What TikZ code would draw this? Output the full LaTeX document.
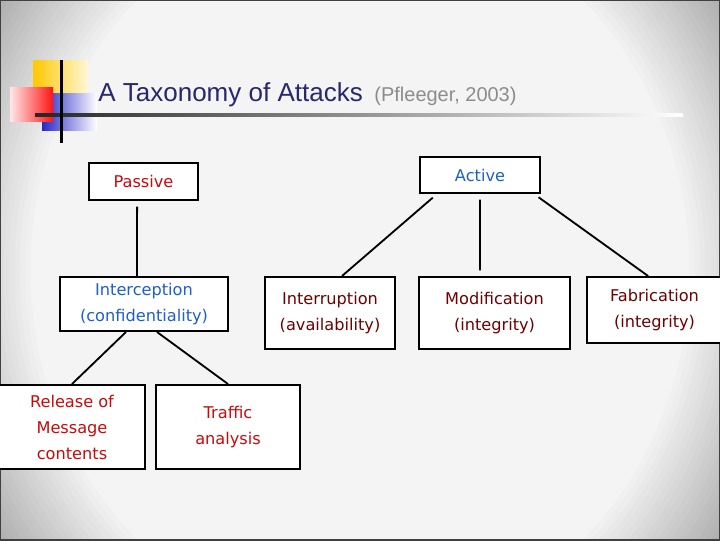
\documentclass[tikz,border=0pt]{standalone}
\usepackage{fontspec}
\usepackage{tikz}
\newfontfamily\boxfont{DejaVu Sans}
\newfontfamily\titlefont{Liberation Sans}
\definecolor{slidewhite}{RGB}{247,247,247}
\definecolor{slidegray}{RGB}{160,160,160}
\definecolor{titleblue}{RGB}{40,40,110}
\definecolor{citegray}{RGB}{140,140,140}
\definecolor{boxred}{RGB}{200,10,10}
\definecolor{boxblue}{RGB}{30,95,200}
\definecolor{boxmaroon}{RGB}{110,0,0}
\definecolor{sqyellow}{RGB}{255,200,0}
\definecolor{sqblue}{RGB}{40,40,200}
\definecolor{sqred}{RGB}{255,20,20}
\tikzset{box/.style={draw, line width=1.4pt, fill=white, align=center, inner sep=0pt,
      font=\boxfont\fontsize{11.5}{18.5}\selectfont}}
\tikzset{link/.style={line width=1.3pt}}
\tikzset{gaplink/.style={link, shorten <=4pt}}

\begin{document}
\begin{tikzpicture}[x=0.025cm,y=-0.025cm]
    \useasboundingbox (0,0) rectangle (720,540);
    \begin{scope}
      \clip (0,0) rectangle (720,540);
      \fill[slidegray] (0,0) rectangle (720,540);
      \foreach \i in {0,...,24}{
        \pgfmathsetmacro\rx{0.27*(42.5-0.5*\i)}
        \pgfmathsetmacro\ry{0.3*(42.5-0.5*\i)}
        \pgfmathtruncatemacro\pct{4*\i}
        \fill[slidewhite!\pct!slidegray] (360,270) ellipse [x radius=\rx cm, y radius=\ry cm];
      }
    \end{scope}
    \draw[line width=2pt, black!75] (0,0) rectangle (720,540);

    % corner squares and title rule
    \shade[left color=sqyellow, right color=sqyellow!15] (33,60) rectangle (88,100);
    \shade[left color=sqblue, right color=white] (42,93) rectangle (97,130);
    \shade[left color=sqred!10, right color=sqred] (10,87) rectangle (53,121);
    \shade[left color=black!85, right color=white] (35,113.5) rectangle (683,116.5);
    \fill[black] (59.5,60) rectangle (62.5,143);

    \node[anchor=base west, inner sep=0pt, font=\titlefont\fontsize{18.5}{22}\selectfont, text=titleblue] (title) at (98,101) {A Taxonomy of Attacks};
    \node[anchor=base west, inner sep=0pt, font=\titlefont\fontsize{14.2}{17}\selectfont, text=citegray] (cite) at ([xshift=0.275cm]title.base east) {(Pfleeger, 2003)};

    \node[box, text=boxred, minimum width=2.725cm, minimum height=0.925cm] (passive) at (143.5,181.5) {Passive};
    \node[box, text=boxblue, minimum width=3cm, minimum height=0.9cm] (active) at (480,175) {Active};
    \node[box, text=boxblue, minimum width=4.2cm, minimum height=1.35cm] (interception) at (144,304) {Interception\\(confidentiality)};
    \node[box, text=boxmaroon, minimum width=3.25cm, minimum height=1.8cm] (interruption) at (330,313) {Interruption\\(availability)};
    \node[box, text=boxmaroon, minimum width=3.775cm, minimum height=1.8cm] (modification) at (494.5,313) {Modification\\(integrity)};
    \node[box, text=boxmaroon, minimum width=3.375cm, minimum height=1.65cm] (fabrication) at (654.5,310) {Fabrication\\(integrity)};
    \node[box, text=boxred, minimum width=3.65cm, minimum height=2.1cm] (release) at (72,427) {Release of\\Message\\contents};
    \node[box, text=boxred, minimum width=3.6cm, minimum height=2.1cm] (traffic) at (228,427) {Traffic\\analysis};

    \draw[gaplink] ([xshift=-0.16cm]passive.south) -- ([xshift=-0.175cm]interception.north);
    \draw[gaplink] ([xshift=0.45cm]active.south west) -- ([xshift=0.3cm]interruption.north);
    \draw[gaplink, shorten >=4pt] (active.south) -- ([xshift=-0.3625cm]modification.north);
    \draw[gaplink] ([xshift=-0.175cm]active.south east) -- ([xshift=-0.16cm]fabrication.north);
    \draw[link] ([xshift=-0.45cm]interception.south) -- (release.north);
    \draw[link] ([xshift=0.325cm]interception.south) -- (traffic.north);
  \end{tikzpicture}
\end{document}
